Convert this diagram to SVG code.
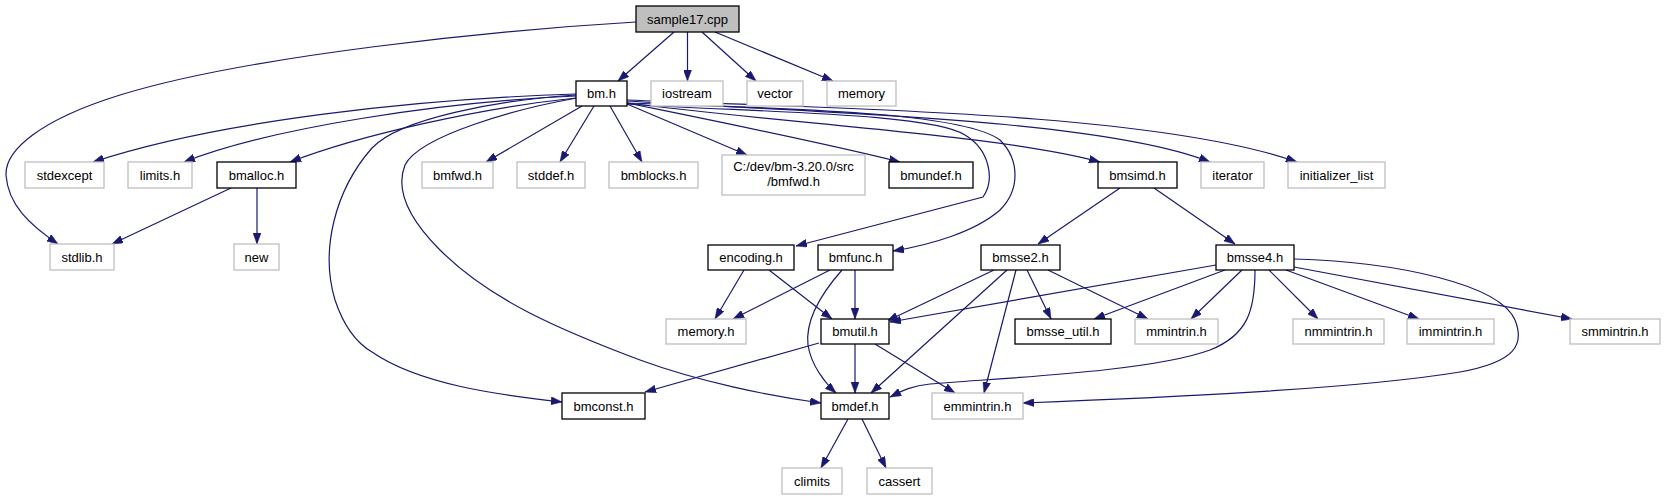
<svg xmlns="http://www.w3.org/2000/svg" width="1666" height="500" viewBox="0 0 1666 500">
<defs>
<style>
.n rect{fill:#ffffff;stroke:#000000;stroke-width:1.3}
.x rect{fill:#ffffff;stroke:#bfbfbf;stroke-width:1.3}
.r rect{fill:#bfbfbf;stroke:#000000;stroke-width:1.3}
text{font-family:"Liberation Sans",Arial,sans-serif;font-size:13px;fill:#000000;text-anchor:middle}
#edges path{fill:none;stroke:#191970;stroke-width:1.2;marker-end:url(#ah)}
</style>
<marker id="ah" markerUnits="userSpaceOnUse" viewBox="0 0 11 8" refX="11" refY="4" markerWidth="11" markerHeight="8" orient="auto">
<path d="M0,0 L11,4 L0,8 z" fill="#191970" stroke="#191970" stroke-width="0.5"/>
</marker>
</defs>
<rect width="1666" height="500" fill="#ffffff"/>
<g id="edges">
<path d="M674,32 L618,81"/>
<path d="M687.5,32 L687.5,81"/>
<path d="M702,32 L756,81"/>
<path d="M715,32 L833,81"/>
<path d="M636,22 C 500,30 250,55 120,95 C 40,120 5,150 6,175 C 8,205 30,225 58,244"/>
<path d="M576,94 C 420,99 220,120 93,162"/>
<path d="M576,96 C 440,102 270,128 184,162"/>
<path d="M576,98 C 480,108 360,135 290,162"/>
<path d="M582,106 L486,162"/>
<path d="M594,106 L560,162"/>
<path d="M610,106 L642,162"/>
<path d="M627,104 L747,155"/>
<path d="M627,103 C 720,122 820,142 900,162"/>
<path d="M627,103 C 800,125 1000,135 1100,162"/>
<path d="M627,101 C 800,112 1100,118 1210,162"/>
<path d="M627,100 C 800,108 1150,110 1297,162"/>
<path d="M627,104 C 740,112 930,112 965,135 C 990,150 995,180 983,197 L 796,246"/>
<path d="M627,103 C 760,108 960,110 1000,140 C 1020,160 1020,190 1000,210 C 975,232 930,245 893,251"/>
<path d="M576,95 C 500,100 400,118 372,148 C 335,190 320,250 335,300 C 345,330 360,345 372,352 C 420,385 500,395 562,402"/>
<path d="M577,98 C 520,108 420,135 405,165 C 395,190 410,220 440,250 C 490,300 560,330 640,360 C 700,382 770,396 821,403"/>
<path d="M231,188 L112,244"/>
<path d="M257,188 L257,244"/>
<path d="M744,270 L715,319"/>
<path d="M769,270 L832,319"/>
<path d="M830,270 L733,319"/>
<path d="M855,270 L855,319"/>
<path d="M842,270 C 820,295 805,320 808,345 C 811,365 825,383 836,393"/>
<path d="M1120,188 L1038,244"/>
<path d="M1154,188 L1235,244"/>
<path d="M994,270 L887,321"/>
<path d="M1007,270 L871,393"/>
<path d="M1016,270 L984,393"/>
<path d="M1027,270 L1051,319"/>
<path d="M1048,270 L1148,319"/>
<path d="M1216,265 L890,322"/>
<path d="M1225,270 L1094,319"/>
<path d="M1242,270 L1191,319"/>
<path d="M1255,270 C 1255,310 1248,335 1210,350 C 1150,372 1000,378 930,384 C 910,386 900,392 890,397"/>
<path d="M1269,270 L1318,319"/>
<path d="M1286,270 L1419,319"/>
<path d="M1294,267 L1572,319"/>
<path d="M1294,259 C 1400,262 1500,285 1515,320 C 1525,345 1515,362 1460,372 C 1350,390 1150,398 1023,403"/>
<path d="M819,343 L645,392"/>
<path d="M855,344 L855,393"/>
<path d="M875,344 L955,393"/>
<path d="M848,419 L821,468"/>
<path d="M862,419 L886,468"/>
</g>
<g id="n_sample17" class="r"><rect x="636" y="6" width="103" height="26"/><text x="687.5" y="23.5">sample17.cpp</text></g>
<g id="n_bm" class="n"><rect x="576" y="81" width="51" height="25"/><text x="601.5" y="98">bm.h</text></g>
<g id="n_iostream" class="x"><rect x="651" y="81" width="72" height="25"/><text x="687" y="98">iostream</text></g>
<g id="n_vector" class="x"><rect x="747" y="81" width="56" height="25"/><text x="775" y="98">vector</text></g>
<g id="n_memory" class="x"><rect x="827" y="81" width="69" height="25"/><text x="861.5" y="98">memory</text></g>
<g id="n_stdexcept" class="x"><rect x="25" y="162" width="79" height="26"/><text x="64.5" y="179.5">stdexcept</text></g>
<g id="n_limits" class="x"><rect x="128" y="162" width="64" height="26"/><text x="160" y="179.5">limits.h</text></g>
<g id="n_bmalloc" class="n"><rect x="217" y="162" width="79" height="26"/><text x="256.5" y="179.5">bmalloc.h</text></g>
<g id="n_bmfwd" class="x"><rect x="422" y="162" width="71" height="26"/><text x="457.5" y="179.5">bmfwd.h</text></g>
<g id="n_stddef" class="x"><rect x="517" y="162" width="68" height="26"/><text x="551" y="179.5">stddef.h</text></g>
<g id="n_bmblocks" class="x"><rect x="609" y="162" width="89" height="26"/><text x="653.5" y="179.5">bmblocks.h</text></g>
<g id="n_cdev" class="x"><rect x="722" y="155" width="143" height="40"/><text x="793.5" y="171">C:/dev/bm-3.20.0/src</text><text x="793.5" y="186">/bmfwd.h</text></g>
<g id="n_bmundef" class="n"><rect x="889" y="162" width="84" height="26"/><text x="931" y="179.5">bmundef.h</text></g>
<g id="n_bmsimd" class="n"><rect x="1098" y="162" width="79" height="26"/><text x="1137.5" y="179.5">bmsimd.h</text></g>
<g id="n_iterator" class="x"><rect x="1201" y="162" width="63" height="26"/><text x="1232.5" y="179.5">iterator</text></g>
<g id="n_initlist" class="x"><rect x="1288" y="162" width="97" height="26"/><text x="1336.5" y="179.5">initializer_list</text></g>
<g id="n_stdlib" class="x"><rect x="50" y="244" width="64" height="26"/><text x="82" y="261.5">stdlib.h</text></g>
<g id="n_new" class="x"><rect x="234" y="244" width="45" height="26"/><text x="256.5" y="261.5">new</text></g>
<g id="n_encoding" class="n"><rect x="708" y="245" width="86" height="25"/><text x="751" y="262">encoding.h</text></g>
<g id="n_bmfunc" class="n"><rect x="818" y="245" width="75" height="25"/><text x="855.5" y="262">bmfunc.h</text></g>
<g id="n_bmsse2" class="n"><rect x="981" y="245" width="79" height="25"/><text x="1020.5" y="262">bmsse2.h</text></g>
<g id="n_bmsse4" class="n"><rect x="1216" y="245" width="78" height="25"/><text x="1255" y="262">bmsse4.h</text></g>
<g id="n_memoryh" class="x"><rect x="666" y="319" width="80" height="25"/><text x="706" y="336">memory.h</text></g>
<g id="n_bmutil" class="n"><rect x="821" y="319" width="68" height="25"/><text x="855" y="336">bmutil.h</text></g>
<g id="n_bmsseutil" class="n"><rect x="1015" y="319" width="96" height="25"/><text x="1063" y="336">bmsse_util.h</text></g>
<g id="n_mmintrin" class="x"><rect x="1135" y="319" width="83" height="25"/><text x="1176.5" y="336">mmintrin.h</text></g>
<g id="n_nmmintrin" class="x"><rect x="1293" y="319" width="91" height="25"/><text x="1338.5" y="336">nmmintrin.h</text></g>
<g id="n_immintrin" class="x"><rect x="1407" y="319" width="87" height="25"/><text x="1450.5" y="336">immintrin.h</text></g>
<g id="n_smmintrin" class="x"><rect x="1570" y="319" width="90" height="25"/><text x="1615" y="336">smmintrin.h</text></g>
<g id="n_bmconst" class="n"><rect x="562" y="393" width="83" height="26"/><text x="603.5" y="410.5">bmconst.h</text></g>
<g id="n_bmdef" class="n"><rect x="821" y="393" width="68" height="26"/><text x="855" y="410.5">bmdef.h</text></g>
<g id="n_emmintrin" class="x"><rect x="932" y="393" width="91" height="26"/><text x="977.5" y="410.5">emmintrin.h</text></g>
<g id="n_climits" class="x"><rect x="782" y="468" width="60" height="26"/><text x="812" y="485.5">climits</text></g>
<g id="n_cassert" class="x"><rect x="867" y="468" width="65" height="26"/><text x="899.5" y="485.5">cassert</text></g>
</svg>
